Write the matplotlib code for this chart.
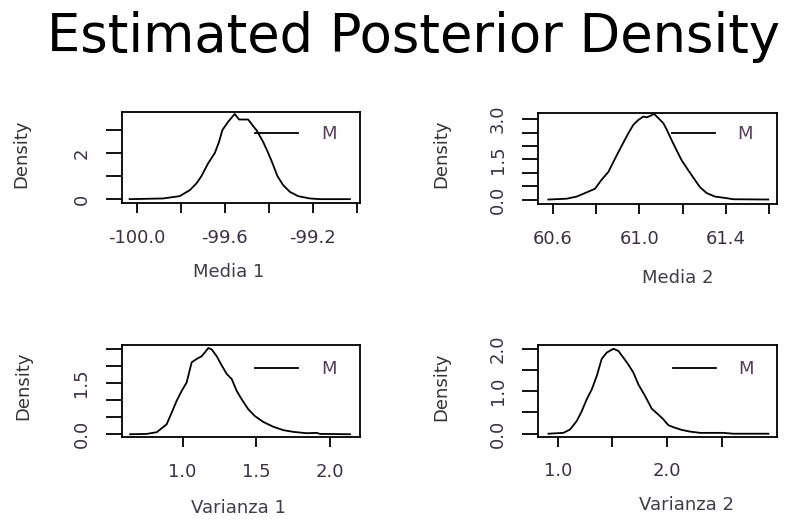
import matplotlib
matplotlib.use("Agg")
import matplotlib.pyplot as plt

# ---------------- data ----------------
title = "Estimated Posterior Density"
xlabels = ["Media 1", "Media 2", "Varianza 1", "Varianza 2"]
legend_label = "M"

x1 = [-100.032, -99.880, -99.805, -99.759, -99.729, -99.706, -99.676, -99.645, -99.626,
      -99.611, -99.585, -99.555, -99.535, -99.494, -99.471, -99.456, -99.426, -99.403,
      -99.383, -99.361, -99.335, -99.305, -99.267, -99.214, -99.168, -99.032]
y1 = [0.0, 0.03, 0.13, 0.39, 0.68, 1.00, 1.55, 2.01, 2.49, 3.00, 3.36, 3.70, 3.46,
      3.46, 3.17, 3.00, 2.49, 2.01, 1.55, 1.00, 0.61, 0.32, 0.13, 0.03, 0.0, 0.0]

x2 = [60.580, 60.665, 60.711, 60.749, 60.795, 60.826, 60.857, 60.888, 60.918, 60.949,
      60.972, 60.995, 61.018, 61.034, 61.049, 61.068, 61.088, 61.111, 61.126, 61.149,
      61.172, 61.195, 61.218, 61.249, 61.280, 61.311, 61.349, 61.395, 61.434, 61.595]
y2 = [0.0, 0.03, 0.11, 0.24, 0.40, 0.74, 1.03, 1.53, 2.00, 2.47, 2.79, 2.97, 3.10, 3.07,
      3.12, 3.20, 3.04, 2.85, 2.62, 2.22, 1.84, 1.47, 1.19, 0.82, 0.46, 0.24, 0.11, 0.06,
      0.01, 0.0]

x3 = [0.643, 0.756, 0.824, 0.891, 0.925, 0.959, 0.993, 1.027, 1.061, 1.095, 1.129, 1.152,
      1.174, 1.197, 1.231, 1.265, 1.299, 1.333, 1.367, 1.400, 1.446, 1.491, 1.548, 1.615,
      1.683, 1.751, 1.842, 1.910, 1.932, 2.136]
y3 = [0.0, 0.01, 0.06, 0.29, 0.63, 0.98, 1.27, 1.52, 2.11, 2.21, 2.29, 2.41, 2.53, 2.49,
      2.29, 2.02, 1.77, 1.62, 1.27, 1.03, 0.73, 0.53, 0.36, 0.22, 0.12, 0.07, 0.03, 0.04,
      0.01, 0.0]

x4 = [0.915, 1.052, 1.113, 1.174, 1.220, 1.265, 1.311, 1.357, 1.402, 1.448, 1.509, 1.555,
      1.601, 1.646, 1.692, 1.738, 1.799, 1.860, 1.921, 1.966, 2.012, 2.073, 2.134, 2.210,
      2.302, 2.515, 2.607, 2.927]
y4 = [0.0, 0.02, 0.10, 0.30, 0.53, 0.81, 1.04, 1.36, 1.76, 1.91, 2.00, 1.95, 1.79, 1.63,
      1.44, 1.16, 0.89, 0.59, 0.45, 0.34, 0.20, 0.14, 0.09, 0.05, 0.02, 0.02, 0.0, 0.0]

xticks1 = [-100.0, -99.8, -99.6, -99.4, -99.2, -99.0]
xticklabels1 = ["-100.0", "", "-99.6", "", "-99.2", ""]
yticks1 = [0, 1, 2, 3]
yticklabels1 = ["0", "", "2", ""]

xticks2 = [60.6, 60.8, 61.0, 61.2, 61.4, 61.6]
xticklabels2 = ["60.6", "", "61.0", "", "61.4", ""]
yticks2 = [0.0, 0.5, 1.0, 1.5, 2.0, 2.5, 3.0]
yticklabels2 = ["0.0", "", "", "1.5", "", "", "3.0"]

xticks3 = [1.0, 1.5, 2.0]
xticklabels3 = ["1.0", "1.5", "2.0"]
yticks3 = [0.0, 0.5, 1.0, 1.5, 2.0, 2.5]
yticklabels3 = ["0.0", "", "", "1.5", "", ""]

xticks4 = [1.0, 1.5, 2.0, 2.5]
xticklabels4 = ["1.0", "", "2.0", ""]
yticks4 = [0.0, 0.5, 1.0, 1.5, 2.0]
yticklabels4 = ["0.0", "", "1.0", "", "2.0"]

# ---------------- layout / style ----------------
panels = [
    dict(x=x1, y=y1, pos=[0.1523, 0.6083, 0.2983, 0.1765], xlim=(-100.068, -98.986), ylim=(-0.18, 3.80),
         xt=xticks1, xtl=xticklabels1, yt=yticks1, ytl=yticklabels1,
         xlab=(0.45, -0.747), ylab=(-0.423, 0.54), leg=(0.559, 0.757)),
    dict(x=x2, y=y2, pos=[0.6738, 0.6063, 0.2991, 0.1753], xlim=(60.534, 61.637), ylim=(-0.18, 3.22),
         xt=xticks2, xtl=xticklabels2, yt=yticks2, ytl=yticklabels2,
         xlab=(0.582, -0.813), ylab=(-0.407, 0.56), leg=(0.558, 0.773)),
    dict(x=x3, y=y3, pos=[0.1523, 0.1574, 0.2983, 0.1779], xlim=(0.586, 2.204), ylim=(-0.09, 2.62),
         xt=xticks3, xtl=xticklabels3, yt=yticks3, ytl=yticklabels3,
         xlab=(0.489, -0.768), ylab=(-0.414, 0.556), leg=(0.559, 0.737)),
    dict(x=x4, y=y4, pos=[0.6738, 0.1586, 0.2991, 0.1767], xlim=(0.823, 3.009), ylim=(-0.07, 2.09),
         xt=xticks4, xtl=xticklabels4, yt=yticks4, ytl=yticklabels4,
         xlab=(0.621, -0.745), ylab=(-0.407, 0.548), leg=(0.562, 0.735)),
]

FONT = "DejaVu Sans"
TICK_COLOR = "#3b3046"
LABEL_COLOR = "#3f3d48"
LEG_COLOR = "#563c5c"
FS = 13

fig = plt.figure(figsize=(7.99, 5.19), dpi=100)
fig.patch.set_facecolor("white")

fig.text(0.518, 0.8998, title, ha="center", va="baseline", fontsize=38,
         family=FONT, color="black")

for p, xl in zip(panels, xlabels):
    ax = fig.add_axes(p["pos"])
    line, = ax.plot(p["x"], p["y"], color="black", lw=1.3)
    ax.set_xlim(*p["xlim"])
    ax.set_ylim(*p["ylim"])
    for s in ax.spines.values():
        s.set_linewidth(1.3)
        s.set_color("black")

    ax.set_xticks(p["xt"])
    ax.set_xticklabels(p["xtl"], fontsize=FS, family=FONT, color=TICK_COLOR)
    ax.set_yticks(p["yt"])
    ax.set_yticklabels(p["ytl"], fontsize=FS, family=FONT, color=TICK_COLOR,
                       rotation=90, va="center")
    ax.tick_params(axis="x", direction="out", length=7.2, width=1.3, pad=11.0)
    ax.tick_params(axis="y", direction="out", length=11.5, width=1.3, pad=11.0)

    ax.set_xlabel(xl, fontsize=FS, family=FONT, color=LABEL_COLOR)
    ax.xaxis.label.set_va("center")
    ax.xaxis.set_label_coords(*p["xlab"])
    ax.set_ylabel("Density", fontsize=FS, family=FONT, color="#333333")
    ax.yaxis.label.set_va("center")
    ax.yaxis.set_label_coords(*p["ylab"])

    ax.legend([line], [legend_label], loc="center left", bbox_to_anchor=p["leg"],
              frameon=False, handlelength=2.4, handletextpad=1.25,
              borderpad=0, borderaxespad=0, labelcolor=LEG_COLOR,
              prop={"family": FONT, "size": 13})

fig.savefig("out.png", dpi=100, facecolor="white")
